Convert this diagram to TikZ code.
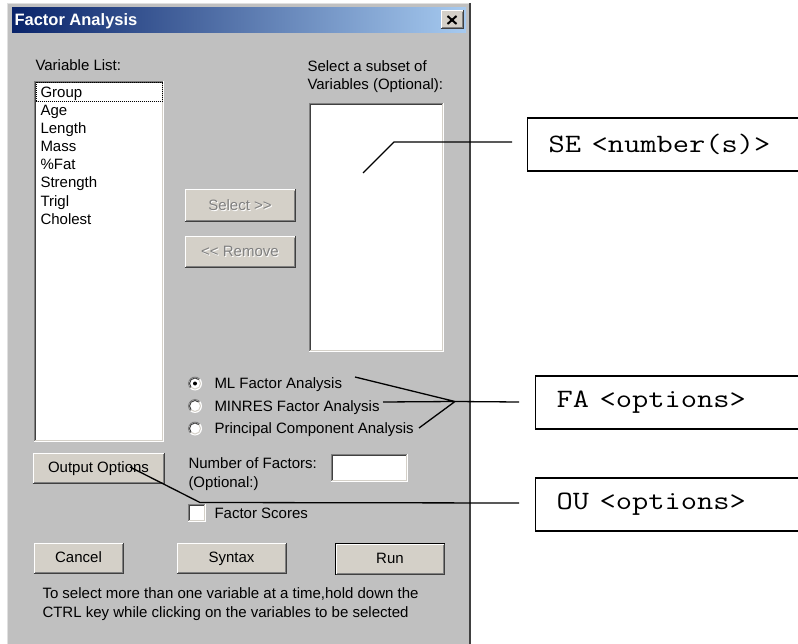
\documentclass[tikz,border=0pt]{standalone}
\usepackage{fontspec}
\setmainfont{Liberation Sans}
\definecolor{winbody}{HTML}{C0C0C0}
\definecolor{btnface}{HTML}{D4D0C8}
\definecolor{edgegray}{HTML}{808080}
\definecolor{edgeblack}{HTML}{404040}
\definecolor{titleA}{HTML}{0A246A}
\definecolor{titleB}{HTML}{A6CAF0}
\definecolor{framelight}{HTML}{E0E0E0}

% raised 3D edge around a node (buttons)
\newcommand{\raisedframe}[1]{%
  \draw[white] ([xshift=.5pt,yshift=1pt]#1.south west) |- ([xshift=-1pt,yshift=-.5pt]#1.north east);
  \draw[edgeblack] ([yshift=.5pt]#1.south west) -| ([xshift=-.5pt]#1.north east);
  \draw[edgegray] ([xshift=1.5pt,yshift=1.5pt]#1.south west) -| ([xshift=-1.5pt,yshift=-1.5pt]#1.north east);
}
% sunken 3D edge around a node (lists, fields, check boxes)
\newcommand{\sunkenframe}[1]{%
  \draw[edgegray] ([xshift=.5pt]#1.south west) |- ([yshift=-.5pt]#1.north east);
  \draw[white] ([yshift=.5pt]#1.south west) -| ([xshift=-.5pt]#1.north east);
  \draw[edgeblack] ([xshift=1.5pt,yshift=1pt]#1.south west) |- ([xshift=-1pt,yshift=-1.5pt]#1.north east);
  \draw[btnface] ([xshift=1pt,yshift=1.5pt]#1.south west) -| ([xshift=-1.5pt,yshift=-1pt]#1.north east);
}
% radio button bevel
\newcommand{\radioframe}[1]{%
  \draw[edgegray] ([shift={(45:6.5pt)}]#1.center) arc[start angle=45, end angle=225, radius=6.5pt];
  \draw[edgeblack] ([shift={(45:5.5pt)}]#1.center) arc[start angle=45, end angle=225, radius=5.5pt];
  \draw[btnface] ([shift={(225:5.5pt)}]#1.center) arc[start angle=225, end angle=405, radius=5.5pt];
}
% typewriter text for the command boxes
\newcommand{\cmdtext}[1]{\scalebox{1.19}[1]{#1}}

\begin{document}
\begin{tikzpicture}[x=1pt,y=-1pt,line width=1pt,
  ui/.style={font=\fontsize{15}{17}\selectfont, inner sep=0pt, text height=11pt, text depth=3pt},
  lbl/.style={ui, anchor=west},
  btn/.style={ui, fill=btnface, minimum width=#1},
  field/.style={fill=white, inner sep=0pt, anchor=north west},
  radiobtn/.style={circle, fill=white, minimum size=14pt, inner sep=0pt},
  callout/.style={draw=black, line width=1.3pt, anchor=west, align=left,
    text width=262pt, inner xsep=21pt, minimum height=53pt,
    font=\ttfamily\fontsize{26.5}{28}\selectfont},
  lead/.style={draw=black, line width=1.3pt}]
\useasboundingbox (0,0) rectangle (798,644);
\clip (0,0) rectangle (798,644);
\fill[white] (0,0) rectangle (798,644);

% dialog window
\fill[winbody] (7,3) rectangle (471,650);
\draw[framelight] (7.5,650) -- (7.5,3.5) -- (469,3.5);
\draw[edgeblack, line width=2pt] (469.5,3) -- (469.5,650);
\shade[left color=titleA, right color=titleB] (12,8) rectangle (466,33);
\node[lbl, font=\bfseries\fontsize{16.5}{18}\selectfont, text=white] (title) at (14,21.5) {Factor Analysis};
\node[btn=22pt, minimum height=18pt] (close) at (452,20) {};
\raisedframe{close}
\draw[line width=2pt] (447.5,16) -- (456.5,24) (456.5,16) -- (447.5,24);

% variable list
\node[lbl] (varlabel) at (35,67) {Variable List:};
\node[field, minimum width=129pt, minimum height=360pt] (varlist) at (34,81) {};
\sunkenframe{varlist}
\draw[dash pattern=on 1pt off 1pt] (36.5,82.5) rectangle (162.5,101.5);
\foreach \name [count=\i from 0] in {Group,Age,Length,Mass,\%Fat,Strength,Trigl,Cholest}
  \node[lbl] (item\i) at (40,93.5+18.1*\i) {\name};

% subset list
\node[lbl] (sublabelA) at (307,68) {Select a subset of};
\node[lbl] (sublabelB) at (307,86) {Variables (Optional):};
\node[field, minimum width=134pt, minimum height=248pt] (sublist) at (309,103) {};
\sunkenframe{sublist}

% disabled buttons
\node[btn=110pt, minimum height=32pt] (selbtn) at (240,206) {};
\raisedframe{selbtn}
\node[ui, text=white] at (241,207.5) {Select >{}>};
\node[ui, text=edgegray] (seltext) at (240,206.5) {Select >{}>};
\node[btn=110pt, minimum height=31pt] (rembtn) at (240,252.5) {};
\raisedframe{rembtn}
\node[ui, text=white] at (241,254) {<{}< Remove};
\node[ui, text=edgegray] (remtext) at (240,253) {<{}< Remove};

% method radio buttons
\node[radiobtn] (rml) at (195,383.5) {};
\node[radiobtn] (rmin) at (195,406) {};
\node[radiobtn] (rpca) at (195,428.5) {};
\radioframe{rml}
\radioframe{rmin}
\radioframe{rpca}
\fill (rml) circle[radius=2pt];
\node[lbl] (mltext) at (214,384.5) {ML Factor Analysis};
\node[lbl] (mintext) at (214,407) {MINRES Factor Analysis};
\node[lbl] (pcatext) at (214,429.5) {Principal Component Analysis};

% factors and output
\node[btn=131pt, minimum height=30pt] (outbtn) at (98.5,468) {Output Options};
\raisedframe{outbtn}
\node[lbl] (nfaclabelA) at (188,464) {Number of Factors:};
\node[lbl] (nfaclabelB) at (188,483) {(Optional:)};
\node[field, minimum width=76pt, minimum height=27pt] (nfac) at (331,454) {};
\sunkenframe{nfac}
\node[field, minimum width=17pt, minimum height=17pt] (scorebox) at (188,504) {};
\sunkenframe{scorebox}
\node[lbl] (scoretext) at (214,514) {Factor Scores};

% bottom buttons
\node[btn=89pt, minimum height=30pt] (cancelbtn) at (78.5,558) {Cancel};
\raisedframe{cancelbtn}
\node[btn=109pt, minimum height=30pt] (syntaxbtn) at (231.5,558) {Syntax};
\raisedframe{syntaxbtn}
\node[btn=110pt, minimum height=32pt] (runbtn) at (390,559) {};
\draw[black] (335.5,543.5) rectangle (444.5,574.5);
\node[btn=108pt, minimum height=30pt] (runface) at (390,559) {Run};
\raisedframe{runface}
\node[lbl] (hintA) at (42,594) {To select more than one variable at a time,hold down the};
\node[lbl] (hintB) at (42,613) {CTRL key while clicking on the variables to be selected};

% command callouts
\node[callout] (se) at (527,144.5) {\cmdtext{SE <number(s)>}};
\node[callout] (fa) at (535,402.5) {\cmdtext{FA <options>}};
\node[callout] (ou) at (535,504.5) {\cmdtext{OU <options>}};

% leader lines
\coordinate (sestart) at (363,173);
\coordinate (sebend) at (394,142);
\coordinate (seend) at (512,142);
\draw[lead] (sestart) -- (sebend) -- (seend);

\coordinate (mlend) at (355,377);
\coordinate (minend) at (383,402);
\coordinate (pcaend) at (419,428);
\coordinate (fahub) at (455,401.5);
\coordinate (faend) at (519,402);
\draw[lead] (mlend) -- (fahub) (minend) -- (fahub) (pcaend) -- (fahub) -- (faend);

\coordinate (oustart) at (130,467);
\coordinate (oubend) at (200,502.5);
\coordinate (ouend) at (519,503);
\draw[lead] (oustart) -- (oubend) -- (ouend);
\end{tikzpicture}
\end{document}
